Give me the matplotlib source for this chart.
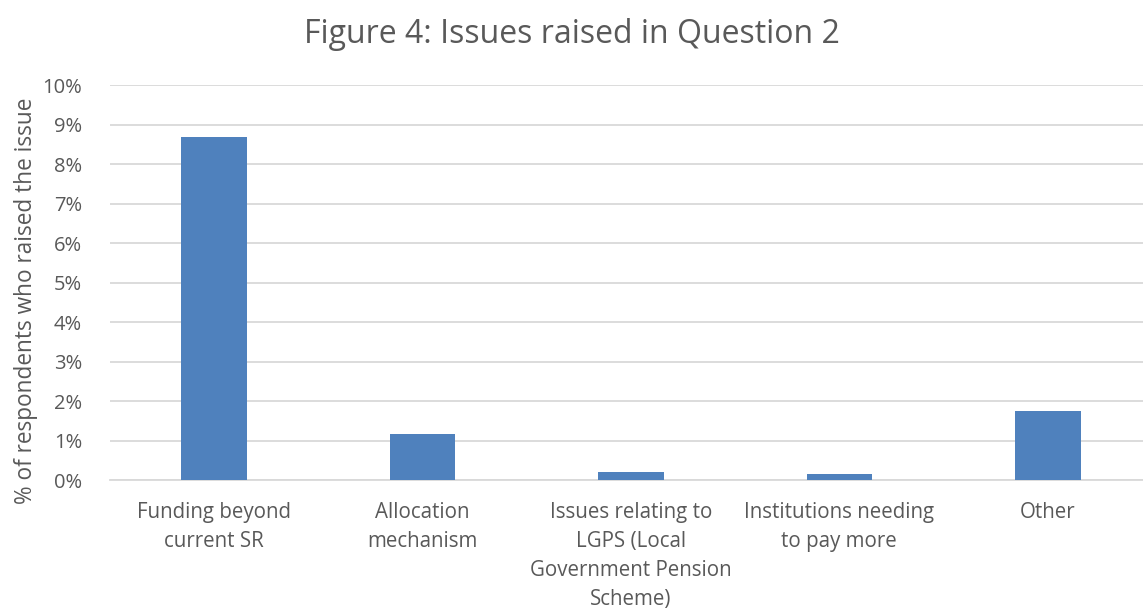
import matplotlib.pyplot as plt
from matplotlib.ticker import FuncFormatter

categories = [
    "Funding beyond\ncurrent SR",
    "Allocation\nmechanism",
    "Issues relating to\nLGPS (Local\nGovernment Pension\nScheme)",
    "Institutions needing\nto pay more",
    "Other",
]
values = [8.68, 1.16, 0.21, 0.16, 1.75]

plt.rcParams['font.family'] = ['Open Sans', 'DejaVu Sans']

fig = plt.figure(figsize=(11.43, 6.08), dpi=100)
ax = fig.add_axes([0.0962, 0.2105, 0.9116, 0.6495])

x = range(len(categories))
ax.bar(x, values, width=0.315, color="#4f81bd", zorder=3)

ax.set_xlim(-0.5, len(categories) - 0.5)
ax.set_ylim(0, 10)
ax.set_yticks(range(0, 11))
ax.yaxis.set_major_formatter(FuncFormatter(lambda v, p: f"{int(v)}%"))
ax.set_xticks(list(x))
ax.set_xticklabels(categories, fontsize=14.8, color="#595959", linespacing=1.5, va="top")
ax.tick_params(axis="y", labelsize=14.5, labelcolor="#595959", length=0, pad=20)
ax.tick_params(axis="x", length=0, pad=16)

ax.grid(axis="y", color="#d9d9d9", linewidth=1.3, zorder=0)
for s in ["top", "right", "left"]:
    ax.spines[s].set_visible(False)
ax.spines["bottom"].set_color("#d9d9d9")
ax.spines["bottom"].set_linewidth(1.3)

ax.set_ylabel("% of respondents who raised the issue", fontsize=16.3, color="#595959")
ax.yaxis.set_label_coords(-0.069, 0.453)
fig.suptitle("Figure 4: Issues raised in Question 2", fontsize=23, color="#595959", y=0.97)

fig.savefig("out.png", dpi=100)
